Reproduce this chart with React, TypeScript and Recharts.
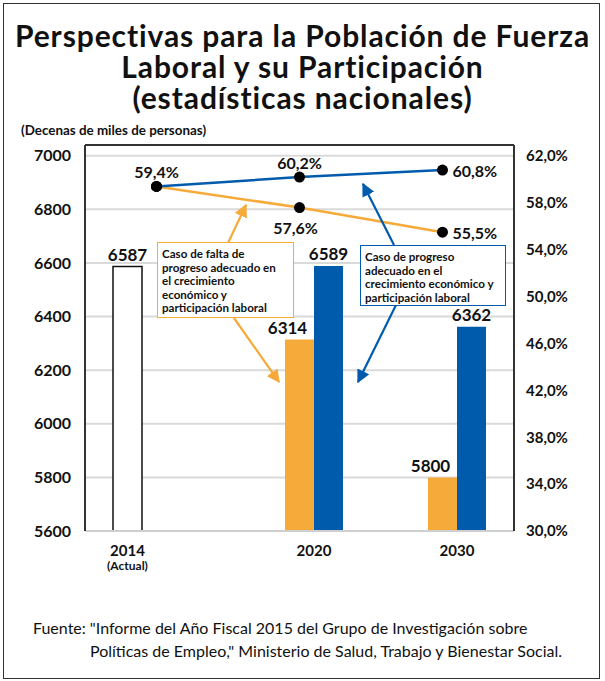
import {
  ComposedChart,
  Bar,
  Line,
  XAxis,
  YAxis,
  CartesianGrid,
  ReferenceLine,
  LabelList,
} from "recharts";

const years = ["2014", "2020", "2030"];
const yearNotes = ["(Actual)", "", ""];
// labour force, tens of thousands of people
const actualForce = [6587, null, null];
const lackForce = [null, 6314, 5800];
const progressForce = [null, 6589, 6362];
// participation rate, %
const lackRate = [59.4, 57.6, 55.5];
const progressRate = [59.4, 60.2, 60.8];
const forceTicks = [5600, 5800, 6000, 6200, 6400, 6600, 6800, 7000];
const rateTicks = [30, 34, 38, 42, 46, 50, 54, 58, 62];

const data = years.map((year, i) => ({
  year,
  note: yearNotes[i],
  actual: actualForce[i],
  lack: lackForce[i],
  progress: progressForce[i],
  lackRate: lackRate[i],
  progressRate: progressRate[i],
}));

const ORANGE = "#F5AA3A";
const BLUE = "#005BAC";
const FONT = "Lato, 'Open Sans', sans-serif";
const BAR = 29;

const pct = (v: number) => v.toFixed(1).replace(".", ",") + "%";

function YearTick(props: any) {
  const { x, y, payload, index } = props;
  const dx = actualForce[index] != null ? -BAR : BAR / 2;
  return (
    <g>
      <text x={x + dx} y={y + 11} textAnchor="middle" dominantBaseline="central"
        fontFamily={FONT} fontWeight="bold" fontSize={15} fill="#111">
        {payload.value}
      </text>
      {yearNotes[index] && (
        <text x={x + dx} y={y + 26} textAnchor="middle" dominantBaseline="central"
          fontFamily={FONT} fontWeight="bold" fontSize={12} fill="#111">
          {yearNotes[index]}
        </text>
      )}
    </g>
  );
}

function barLabel(dx: number, bold = true) {
  return (props: any) => {
    const { x, y, width, value, index } = props;
    if (value == null) return null;
    const strong = bold && !(dx < 0 && index === 2);
    return (
      <text x={x + width / 2 + dx} y={y - 12} textAnchor="middle" dominantBaseline="central"
        fontFamily={FONT} fontWeight={strong ? "bold" : "normal"} fontSize={strong ? 17 : 16} fill="#111">
        {value}
      </text>
    );
  };
}

// where each point label sits relative to its dot
const progressPlace = ["top", "top", "right"];
const lackPlace = ["none", "bottom", "right"];

function rateLabel(place: string[]) {
  return (props: any) => {
    const { x, y, value, index } = props;
    const p = place[index];
    if (p === "none") return null;
    let tx = x, ty = y, anchor = "middle";
    if (p === "top") ty = y - 15;
    if (p === "bottom") { ty = y + 20; tx = x - 4; }
    if (p === "right") { tx = x + 10; anchor = "start"; }
    return (
      <text x={tx} y={ty} textAnchor={anchor} dominantBaseline="central"
        fontFamily={FONT} fontWeight="bold" fontSize={16} fill="#111">
        {pct(value)}
      </text>
    );
  };
}

const boxText: React.CSSProperties = {
  position: "absolute",
  background: "#fff",
  fontFamily: FONT,
  fontWeight: "bold",
  fontSize: 11.6,
  lineHeight: "13.5px",
  color: "#111",
  boxSizing: "border-box",
  padding: "4px 4px",
  whiteSpace: "nowrap",
};

const titleLine: React.CSSProperties = {
  width: 605,
  height: 31,
  textAlign: "center",
  fontWeight: "bold",
  fontSize: 30,
  lineHeight: "31px",
  letterSpacing: "0.9px",
  color: "#111",
};

export default function App() {
  return (
    <div style={{ position: "absolute", left: 0, top: 0, width: 605, height: 681, background: "#fff", fontFamily: FONT }}>
      <div style={{ position: "absolute", left: 3, top: 3, width: 597, height: 676, border: "1.5px solid #333", boxSizing: "border-box" }} />
      <div style={{ position: "absolute", left: 0, top: 20 }}>
        <div style={titleLine}>Perspectivas para la Población de Fuerza</div>
        <div style={titleLine}>Laboral y su Participación</div>
        <div style={titleLine}>(estadísticas nacionales)</div>
      </div>
      <div style={{ position: "absolute", left: 21, top: 122, fontWeight: "bold", fontSize: 13.4, color: "#111" }}>
        (Decenas de miles de personas)
      </div>

      <div style={{ position: "absolute", left: 0, top: 0 }}>
        <ComposedChart width={605} height={681} data={data} barGap={0}
          margin={{ top: 145, right: 21, bottom: 110, left: 25 }}>
          <CartesianGrid yAxisId="force" vertical={false} stroke="#dadada" strokeWidth={2} />
          <XAxis dataKey="year" tickLine={false} axisLine={{ stroke: "#cfcfcf", strokeWidth: 2 }}
            height={40} interval={0} tick={<YearTick />} />
          <YAxis yAxisId="force" domain={[5600, 7040]} ticks={forceTicks} width={60} tickMargin={8}
            tickLine={false} axisLine={{ stroke: "#333", strokeWidth: 2 }}
            tick={{ fontFamily: FONT, fontWeight: "bold", fontSize: 16, fill: "#111" }} />
          <YAxis yAxisId="rate" orientation="right" domain={[30, 62.94]} ticks={rateTicks} width={70} tickMargin={6}
            tickLine={false} axisLine={{ stroke: "#333", strokeWidth: 2 }} tickFormatter={pct}
            tick={{ fontFamily: FONT, fontWeight: "bold", fontSize: 15, fill: "#111" }} />
          <ReferenceLine yAxisId="force" y={7040} stroke="#333" strokeWidth={2} />
          <Bar yAxisId="force" dataKey="actual" barSize={BAR} fill="#fff" stroke="#111" strokeWidth={1.5} isAnimationActive={false}>
            <LabelList dataKey="actual" content={barLabel(0)} />
          </Bar>
          <Bar yAxisId="force" dataKey="lack" barSize={BAR} fill={ORANGE} isAnimationActive={false}>
            <LabelList dataKey="lack" content={barLabel(-12)} />
          </Bar>
          <Bar yAxisId="force" dataKey="progress" barSize={BAR} fill={BLUE} isAnimationActive={false}>
            <LabelList dataKey="progress" content={barLabel(0)} />
          </Bar>
          <Line yAxisId="rate" dataKey="lackRate" stroke={ORANGE} strokeWidth={2.5}
            dot={{ r: 5.5, fill: "#000", stroke: "none" }} isAnimationActive={false}>
            <LabelList dataKey="lackRate" content={rateLabel(lackPlace)} />
          </Line>
          <Line yAxisId="rate" dataKey="progressRate" stroke={BLUE} strokeWidth={2.5}
            dot={{ r: 5.5, fill: "#000", stroke: "none" }} isAnimationActive={false}>
            <LabelList dataKey="progressRate" content={rateLabel(progressPlace)} />
          </Line>
        </ComposedChart>
      </div>

      {/* callout arrows */}
      <svg width={605} height={681} style={{ position: "absolute", left: 0, top: 0, pointerEvents: "none" }}>
        <defs>
          <marker id="hO" viewBox="0 0 10 10" refX="9" refY="5" markerWidth="6" markerHeight="6" orient="auto" markerUnits="strokeWidth">
            <path d="M0,0 L10,5 L0,10 z" fill={ORANGE} />
          </marker>
          <marker id="hB" viewBox="0 0 10 10" refX="9" refY="5" markerWidth="6" markerHeight="6" orient="auto" markerUnits="strokeWidth">
            <path d="M0,0 L10,5 L0,10 z" fill={BLUE} />
          </marker>
        </defs>
        <line x1={228} y1={243} x2={246} y2={205} stroke={ORANGE} strokeWidth={2.2} markerEnd="url(#hO)" />
        <line x1={234} y1={318} x2={279} y2={382} stroke={ORANGE} strokeWidth={2.2} markerEnd="url(#hO)" />
        <line x1={394} y1={245} x2={363} y2={184} stroke={BLUE} strokeWidth={2.2} markerEnd="url(#hB)" />
        <line x1={396} y1={305} x2={358} y2={382} stroke={BLUE} strokeWidth={2.2} markerEnd="url(#hB)" />
      </svg>

      <div style={{ ...boxText, left: 157, top: 242, width: 137, height: 76, border: `1.5px solid ${ORANGE}` }}>
        Caso de falta de<br />progreso adecuado en<br />el crecimiento<br />económico y<br />participación laboral
      </div>
      <div style={{ ...boxText, left: 360, top: 245, width: 146, height: 61, border: `1.5px solid ${BLUE}` }}>
        Caso de progreso<br />adecuado en el<br />crecimiento económico y<br />participación laboral
      </div>

      <div style={{ position: "absolute", left: 33, top: 616, fontSize: 16, lineHeight: "23px", color: "#111" }}>
        Fuente: "Informe del Año Fiscal 2015 del Grupo de Investigación sobre
        <div style={{ paddingLeft: 57 }}>Políticas de Empleo," Ministerio de Salud, Trabajo y Bienestar Social.</div>
      </div>
    </div>
  );
}
